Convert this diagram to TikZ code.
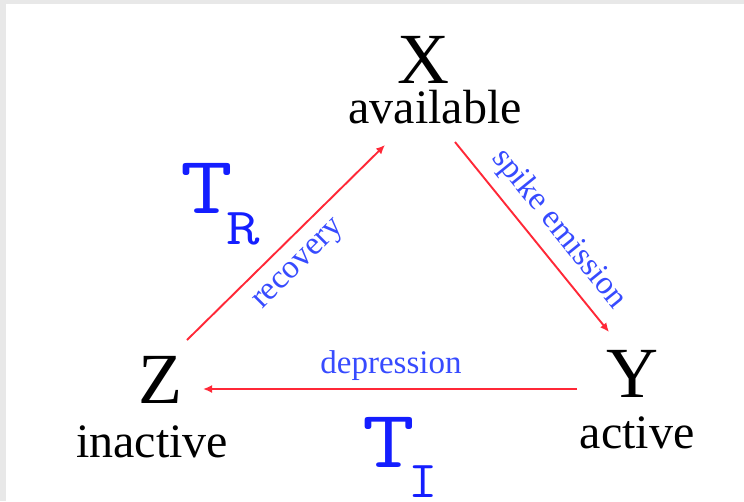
\documentclass[tikz,border=0pt]{standalone}
\usepackage{fontspec}
\usepackage{graphicx}
\setmainfont{Liberation Serif}
\usetikzlibrary{arrows.meta}
\definecolor{arrowred}{RGB}{255,40,55}
\definecolor{labelblue}{RGB}{55,75,255}
\definecolor{tblue}{RGB}{20,30,255}
\definecolor{framegray}{RGB}{232,232,232}
\newcommand{\wideglyph}[1]{\scalebox{1.25}[1]{#1}}
\begin{document}
\begin{tikzpicture}[x=1pt,y=-1pt,
  big/.style={anchor=base,inner sep=0pt,font=\fontsize{72}{72}\selectfont},
  state/.style={anchor=base,inner sep=0pt,font=\fontsize{48}{48}\selectfont},
  lbl/.style={inner sep=0pt,text=labelblue,font=\fontsize{33}{33}\selectfont},
  tconst/.style={anchor=base west,inner sep=0pt,text=tblue,font=\ttfamily\addfontfeatures{FakeBold=1.2}\fontsize{82}{82}\selectfont},
  flow/.style={draw=arrowred,line width=1.9pt,-{Latex[length=9pt,width=8pt]}}]
\useasboundingbox (0,0) rectangle (744,501);
\fill[framegray] (0,0) rectangle (744,501);
\fill[white] (6,4) rectangle (744,501);
% states
\node[big] (X) at (423,83) {X};
\node[state] (Xl) at (435,123) {available};
\node[big] (Z) at (160,403) {Z};
\node[state] (Zl) at (152,457) {inactive};
\node[big] (Y) at (632,397) {Y};
\node[state] (Yl) at (637,448) {active};
% arrow end points
\coordinate (zx0) at (187,340);
\coordinate (zx1) at (385,145);
\coordinate (xy0) at (455,142);
\coordinate (xy1) at (609,332);
\coordinate (yz0) at (577,389);
\coordinate (yz1) at (203,389);
\draw[flow] (zx0) -- (zx1);
\draw[flow] (xy0) -- (xy1);
\draw[flow] (yz0) -- (yz1);
% labels
\node[lbl,rotate=45] (rec) at (300,266) {recovery};
\node[lbl,rotate=-51] (spk) at (559,229) {spike emission};
\node[lbl,anchor=base] (dep) at (391,373) {depression};
\node[tconst] (TR) at (180.5,213) {\wideglyph{T}\hspace{-7pt}\raisebox{-31pt}{\fontsize{52}{52}\selectfont\wideglyph{R}}};
\node[tconst] (TI) at (362,467) {\wideglyph{T}\hspace{-6pt}\raisebox{-30pt}{\fontsize{52}{52}\selectfont\scalebox{1.1}[1]{I}}};
\end{tikzpicture}
\end{document}
